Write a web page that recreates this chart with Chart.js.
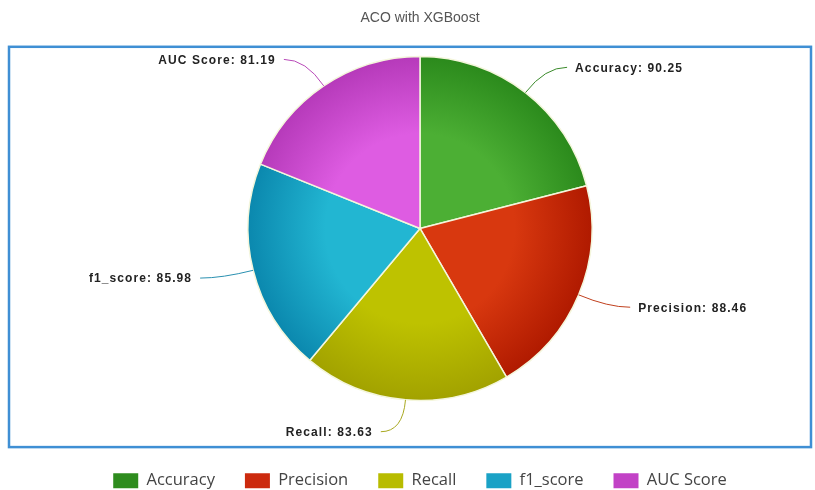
<!DOCTYPE html>
<html>
<head>
<meta charset="utf-8">
<script src="https://cdn.jsdelivr.net/npm/chart.js@4.4.1/dist/chart.umd.min.js"></script>
<style>
  body { margin: 0; background: #fff; }
  #wrap { width: 815px; height: 490px; }
</style>
</head>
<body>
<div id="wrap"><canvas id="myChart" width="815" height="490"></canvas></div>
<script>
const chartTitle = "ACO with XGBoost";
const metricNames = ["Accuracy", "Precision", "Recall", "f1_score", "AUC Score"];
const metricScores = [90.25, 88.46, 83.63, 85.98, 81.19];

// light centre / dark rim for each slice, plus flat swatch for the legend
const lightColors = ["#4caf34", "#d8380f", "#bec200", "#22b6d2", "#de5ce2"];
const darkColors = ["#2b8a1c", "#b01a00", "#a2a200", "#0b88ae", "#b63aba"];
const swatchColors = ["#2e8c1e", "#cc2a0e", "#b8bc00", "#1aa2c6", "#c242c6"];
const lineColors = ["#3a8a2a", "#c0401e", "#a8a820", "#2a90b0", "#b84ab8"];

const PIE_RADIUS = 172;

function sliceGradient(context) {
  const chart = context.chart;
  const i = context.dataIndex;
  const area = chart.chartArea;
  if (!area) return lightColors[i];
  const cx = (area.left + area.right) / 2;
  const cy = (area.top + area.bottom) / 2;
  const g = chart.ctx.createRadialGradient(cx, cy, 0, cx, cy, PIE_RADIUS);
  g.addColorStop(0, lightColors[i]);
  g.addColorStop(0.55, lightColors[i]);
  g.addColorStop(1, darkColors[i]);
  return g;
}

// blue frame around the plot
const frameBox = {
  id: "frameBox",
  beforeDraw(chart) {
    const ctx = chart.ctx;
    const left = chart.chartArea.left - 16;
    const right = chart.width - 4;
    const top = chart.titleBlock.bottom + 10;
    const bottom = chart.legend.top + 27;
    ctx.save();
    ctx.strokeStyle = "#3f8fd4";
    ctx.lineWidth = 2.5;
    ctx.strokeRect(left, top, right - left, bottom - top);
    ctx.restore();
  }
};

// value labels outside the pie with curved leader lines
const outLabels = {
  id: "outLabels",
  afterDatasetsDraw(chart) {
    const ctx = chart.ctx;
    const meta = chart.getDatasetMeta(0);
    ctx.save();
    ctx.font = "bold 12px 'Liberation Sans', Arial, sans-serif";
    ctx.letterSpacing = "1.1px";
    ctx.textBaseline = "middle";
    meta.data.forEach((arc, i) => {
      const p = arc.getProps(["x", "y", "startAngle", "endAngle", "outerRadius"], true);
      const mid = (p.startAngle + p.endAngle) / 2;
      const cos = Math.cos(mid);
      const sin = Math.sin(mid);
      const x0 = p.x + cos * p.outerRadius;
      const y0 = p.y + sin * p.outerRadius;
      const x1 = p.x + cos * (p.outerRadius + 32);
      const y1 = p.y + sin * (p.outerRadius + 32);
      const right = cos >= 0;
      const x2 = x1 + (right ? 22 : -22);
      ctx.strokeStyle = lineColors[i];
      ctx.lineWidth = 1;
      ctx.beginPath();
      ctx.moveTo(x0, y0);
      ctx.quadraticCurveTo(x1, y1, x2, y1);
      ctx.stroke();
      ctx.fillStyle = "#222";
      ctx.textAlign = right ? "left" : "right";
      const text = metricNames[i] + ": " + metricScores[i].toFixed(2);
      ctx.fillText(text, x2 + (right ? 8 : -8), y1 + 1);
    });
    ctx.restore();
  }
};

const ctx = document.getElementById("myChart").getContext("2d");
const myChart = new Chart(ctx, {
  type: "pie",
  data: {
    labels: metricNames,
    datasets: [
      {
        data: metricScores,
        backgroundColor: sliceGradient,
        borderColor: "#f4f6dc",
        borderWidth: 1.5,
        radius: PIE_RADIUS,
      },
    ],
  },
  options: {
    responsive: false,
    animation: false,
    layout: { padding: { left: 25, bottom: -9 } },
    plugins: {
      title: {
        display: true,
        text: chartTitle,
        color: "#555",
        font: { size: 14, weight: "normal", family: "'Liberation Sans', Arial, sans-serif" },
        padding: { top: 10, bottom: 10 },
      },
      legend: {
        position: "bottom",
        title: { display: true, text: "", font: { size: 12 }, padding: { top: 0, bottom: 8 } },
        labels: {
          boxWidth: 25,
          boxHeight: 15,
          padding: 30,
          color: "#444",
          font: { size: 16.5, family: "'Open Sans', sans-serif" },
          generateLabels: () =>
            metricNames.map((text, i) => ({
              text: text,
              fillStyle: swatchColors[i],
              strokeStyle: swatchColors[i],
              lineWidth: 0,
              hidden: false,
              index: i,
              fontColor: "#444",
            })),
        },
      },
      tooltip: { enabled: false },
    },
  },
  plugins: [frameBox, outLabels],
});
</script>
</body>
</html>
